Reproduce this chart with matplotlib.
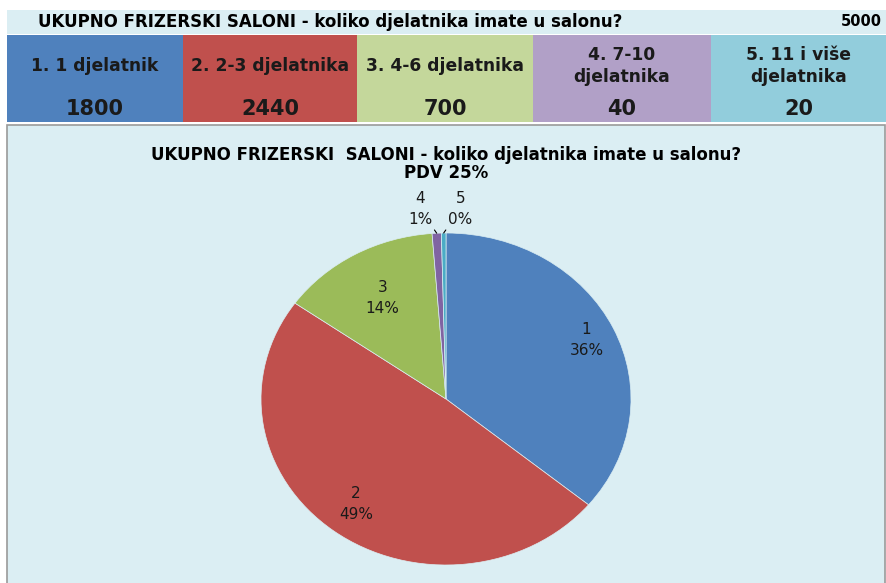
import matplotlib
matplotlib.use("Agg")
import matplotlib.pyplot as plt
from matplotlib.patches import Rectangle
import numpy as np

title = "UKUPNO FRIZERSKI SALONI - koliko djelatnika imate u salonu?"
total = 5000
categories = ["1. 1 djelatnik", "2. 2-3 djelatnika", "3. 4-6 djelatnika",
              "4. 7-10\ndjelatnika", "5. 11 i više\ndjelatnika"]
counts = [1800, 2440, 700, 40, 20]
pie_labels = ["1", "2", "3", "4", "5"]
chart_title = "UKUPNO FRIZERSKI  SALONI - koliko djelatnika imate u salonu?\nPDV 25%"

cell_colors = ["#4F81BD", "#C0504D", "#C4D79B", "#B1A0C7", "#92CDDC"]
pie_colors = ["#4F81BD", "#C0504D", "#9BBB59", "#8064A2", "#4BACC6"]
bg = "#DBEEF3"

W, H = 887, 583
fig = plt.figure(figsize=(W / 100, H / 100), dpi=100)
fig.patch.set_facecolor("white")

# background axes in pixel coords (y down)
bga = fig.add_axes([0, 0, 1, 1])
bga.set_xlim(0, W)
bga.set_ylim(H, 0)
bga.axis("off")

font = "DejaVu Sans"
# header row
bga.add_patch(Rectangle((7, 10), W - 7, 24, facecolor=bg, edgecolor="none"))
bga.text(38, 22, title, ha="left", va="center", fontsize=12, fontweight="bold", family=font)
bga.text(882, 22, str(total), ha="right", va="center", fontsize=10.5, fontweight="bold", family=font)

# coloured cells
edges = [7, 183, 357, 533, 711, 887]
for i, (cat, n) in enumerate(zip(categories, counts)):
    x0, x1 = edges[i], edges[i + 1]
    bga.add_patch(Rectangle((x0, 35), x1 - x0, 87, facecolor=cell_colors[i], edgecolor="none"))
    xc = (x0 + x1) / 2
    bga.text(xc, 66, cat, ha="center", va="center", fontsize=12.3, fontweight="bold",
             family=font, color="#1a1a1a", linespacing=1.35)
    bga.text(xc, 109, str(n), ha="center", va="center", fontsize=15, fontweight="bold",
             family=font, color="#1a1a1a")

# chart area
bga.add_patch(Rectangle((7, 125), W - 9, H - 124, facecolor=bg, edgecolor="#9a9a9a", linewidth=1.2))
bga.text(446, 164, chart_title, ha="center", va="center", fontsize=12, fontweight="bold",
         family=font, linespacing=1.05)

# pie (elliptical like Excel)
cx, cy, rx, ry = 446, 399, 185, 166
ax = fig.add_axes([(cx - rx) / W, (H - cy - ry) / H, 2 * rx / W, 2 * ry / H])
wedges, _ = ax.pie(counts, colors=pie_colors, startangle=90, counterclock=False,
                   wedgeprops=dict(linewidth=0.5, edgecolor=bg))
ax.set_aspect("auto")
ax.set_xlim(-1, 1)
ax.set_ylim(-1, 1)
ax.axis("off")

pcts = [round(100 * c / total) for c in counts]
dists = [0.84, 0.8, 0.7, None, None]
for i, w in enumerate(wedges):
    ang = np.deg2rad((w.theta1 + w.theta2) / 2)
    txt = f"{pie_labels[i]}\n{pcts[i]}%"
    if dists[i] is not None:
        ax.text(dists[i] * np.cos(ang), dists[i] * np.sin(ang), txt, ha="center", va="center",
                fontsize=11, family=font, color="#1a1a1a", linespacing=1.5)
    else:
        xe, ye = np.cos(ang), np.sin(ang)
        off = -0.09 if i == 3 else 0.09
        ax.annotate(txt, xy=(xe, ye), xytext=(xe + off, 1.035), ha="center", va="bottom",
                    fontsize=11, family=font, color="#1a1a1a", linespacing=1.5,
                    annotation_clip=False,
                    arrowprops=dict(arrowstyle="-", color="black", lw=0.8, shrinkA=0, shrinkB=0))

fig.savefig("out.png", dpi=100)
